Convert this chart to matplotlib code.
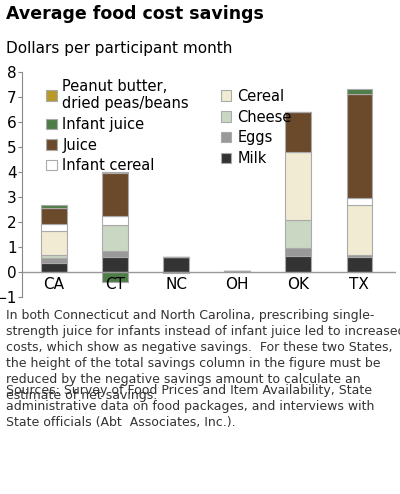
import numpy as np
import matplotlib.pyplot as plt

states = ["CA", "CT", "NC", "OH", "OK", "TX"]
milk = [0.37, 0.58, 0.58, 0.05, 0.62, 0.58]
eggs = [0.18, 0.25, 0.0, 0.0, 0.33, 0.09]
cheese = [0.11, 1.04, 0.0, 0.0, 1.12, 0.0]
cereal = [0.96, 0.0, 0.0, 0.0, 2.72, 1.99]
infant_cereal = [0.31, 0.36, 0.0, 0.0, 0.0, 0.28]
juice = [0.64, 1.72, 0.0, 0.0, 1.63, 4.19]
peanut = [0.0, 0.07, 0.0, 0.0, 0.0, 0.0]
infant_juice = [0.09, -0.40, -0.05, 0.0, 0.0, 0.19]

series = [
    ("Milk", milk, "#333333"),
    ("Eggs", eggs, "#999999"),
    ("Cheese", cheese, "#c9d7c3"),
    ("Cereal", cereal, "#f2ebd3"),
    ("Infant cereal", infant_cereal, "#ffffff"),
    ("Juice", juice, "#6b4a2c"),
    ("Peanut butter,\ndried peas/beans", peanut, "#b89a2a"),
    ("Infant juice", infant_juice, "#4f7d48"),
]

fig = plt.figure(figsize=(4.0, 4.94), dpi=100)
ax = fig.add_axes([0.055, 0.399, 0.935, 0.455])
x = np.arange(len(states))
pos = np.zeros(len(states))
neg = np.zeros(len(states))
handles = {}
for name, vals, col in series:
    v = np.array(vals)
    bottom = np.where(v >= 0, pos, neg)
    h = ax.bar(x, v, 0.42, bottom=bottom, color=col, edgecolor="#aaaaaa", linewidth=0.8)
    handles[name] = h
    pos += np.where(v >= 0, v, 0)
    neg += np.where(v < 0, v, 0)

ax.axhline(0, color="#999999", lw=1)
ax.set_ylim(-1, 8)
ax.set_xlim(-0.52, 5.6)
ax.set_yticks(range(-1, 9))
ax.set_xticks(x)
ax.set_xticklabels(states)
ax.tick_params(axis="y", labelsize=11, length=3, pad=1, color="#888888")
ax.tick_params(axis="x", labelsize=11, length=0, pad=-14)
for s in ["top", "right", "bottom"]:
    ax.spines[s].set_visible(False)
ax.spines["left"].set_color("#888888")

order = ["Peanut butter,\ndried peas/beans", "Infant juice", "Juice", "Infant cereal",
         "Cereal", "Cheese", "Eggs", "Milk"]
ax.legend([handles[n] for n in order], order, ncol=2, loc="upper left",
          bbox_to_anchor=(0.03, 1.03), frameon=False, fontsize=10.5,
          handlelength=0.7, handleheight=0.7, handletextpad=0.4,
          columnspacing=2.2, labelspacing=0.4)

fig.text(0.015, 0.962, "Average food cost savings", fontsize=12.5, fontweight="bold")
fig.text(0.015, 0.893, "Dollars per participant month", fontsize=11)
fig.text(0.015, 0.374,
         "In both Connecticut and North Carolina, prescribing single-\n"
         "strength juice for infants instead of infant juice led to increased\n"
         "costs, which show as negative savings.  For these two States,\n"
         "the height of the total savings column in the figure must be\n"
         "reduced by the negative savings amount to calculate an\n"
         "estimate of net savings.", fontsize=9, color="#333333", va="top",
         linespacing=1.3)
fig.text(0.015, 0.222,
         "Sources: Survey of Food Prices and Item Availability, State\n"
         "administrative data on food packages, and interviews with\n"
         "State officials (Abt  Associates, Inc.).", fontsize=9, color="#333333",
         va="top", linespacing=1.3)
fig.savefig("out.png", dpi=100)
